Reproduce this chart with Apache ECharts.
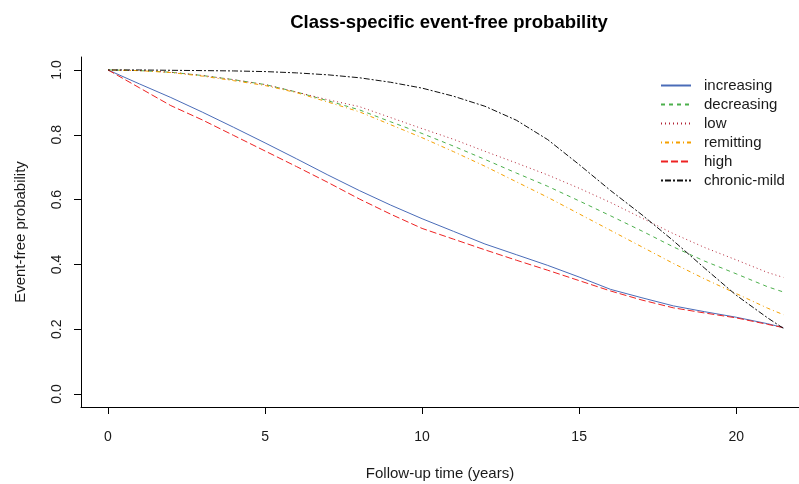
<!DOCTYPE html>
<html>
<head>
<meta charset="utf-8">
<script src="https://cdn.jsdelivr.net/npm/echarts@6/dist/echarts.min.js"></script>
<style>
html, body { margin: 0; padding: 0; background: #fff; }
#main { width: 799px; height: 484px; }
</style>
</head>
<body>
<div id="main"></div>
<script>
// follow-up time (years)
var time = [0, 1, 2, 3, 4, 5, 6, 7, 8, 9, 10, 11, 12, 13, 14, 15, 16, 17, 18, 19, 20, 21, 21.5];

// event-free probability per class
var increasing = [1.000, 0.957, 0.915, 0.870, 0.823, 0.775, 0.726, 0.676, 0.628, 0.583, 0.541, 0.502, 0.463, 0.430, 0.397, 0.361, 0.323, 0.297, 0.272, 0.254, 0.237, 0.217, 0.205];
var decreasing = [1.000, 0.998, 0.993, 0.983, 0.970, 0.955, 0.932, 0.905, 0.877, 0.840, 0.804, 0.765, 0.724, 0.682, 0.641, 0.596, 0.550, 0.503, 0.454, 0.410, 0.371, 0.331, 0.315];
var low = [1.000, 0.998, 0.993, 0.983, 0.970, 0.955, 0.932, 0.908, 0.887, 0.853, 0.819, 0.786, 0.749, 0.713, 0.676, 0.635, 0.591, 0.543, 0.495, 0.452, 0.414, 0.375, 0.360];
var remitting = [1.000, 0.998, 0.992, 0.981, 0.967, 0.952, 0.930, 0.901, 0.871, 0.831, 0.791, 0.748, 0.703, 0.655, 0.607, 0.556, 0.505, 0.454, 0.403, 0.355, 0.310, 0.265, 0.245];
var high = [1.000, 0.945, 0.890, 0.846, 0.798, 0.750, 0.702, 0.653, 0.602, 0.555, 0.511, 0.478, 0.445, 0.413, 0.382, 0.350, 0.318, 0.290, 0.266, 0.250, 0.235, 0.215, 0.205];
var chronicMild = [1.000, 1.000, 0.999, 0.998, 0.997, 0.995, 0.991, 0.985, 0.976, 0.962, 0.944, 0.919, 0.888, 0.845, 0.785, 0.708, 0.628, 0.553, 0.473, 0.388, 0.305, 0.235, 0.203];

// tick labels
var xTicks = [0, 5, 10, 15, 20];
var yTicks = [0, 0.2, 0.4, 0.6, 0.8, 1.0];

var font = 'Liberation Sans, Arial, sans-serif';

function pairs(vals){
	return time.map(function(t, i){ return [t, vals[i]]; });
}

// R lty: 1 solid, 2 dashed, 3 dotted, 4 dotdash, 5 longdash, 6 twodash
function curve(name, vals, color, dash){
	return {
		name: name,
		type: 'line',
		symbol: 'none',
		smooth: false,
		data: pairs(vals),
		lineStyle: { color: color, width: 1, type: dash },
		itemStyle: { color: color },
		emphasis: { disabled: true }
	};
}

var myChart = echarts.init(document.getElementById('main'));
var option = {
	backgroundColor: '#fff',
	animation: false,
	title: {
		text: 'Class-specific event-free probability',
		left: 444,
		textAlign: 'center',
		top: 8,
		textStyle: { fontFamily: font, fontSize: 18.5, fontWeight: 'bold', color: '#000' }
	},
	legend: {
		orient: 'vertical',
		left: 660,
		top: 78,
		padding: 0,
		itemWidth: 30,
		itemHeight: 14,
		itemGap: 4,
		itemStyle: { opacity: 0 },
		textStyle: { fontFamily: font, fontSize: 15, lineHeight: 14, color: '#1a1a1a', padding: [0, 0, 0, 8] },
		data: ['increasing', 'decreasing', 'low', 'remitting', 'high', 'chronic-mild']
	},
	grid: { left: 81, right: 0, top: 57, bottom: 77, outerBoundsMode: 'none' },
	xAxis: {
		type: 'value',
		min: -0.86,
		max: 22.0,
		name: 'Follow-up time (years)',
		nameLocation: 'middle',
		nameGap: 59,
		nameTextStyle: { fontFamily: font, fontSize: 15, color: '#1a1a1a' },
		splitLine: { show: false },
		axisLine: { show: true, onZero: false, lineStyle: { color: '#000', width: 1 } },
		axisTick: { show: true, length: 7, customValues: xTicks, lineStyle: { color: '#000' } },
		axisLabel: {
			customValues: xTicks,
			margin: 23,
			fontFamily: font, fontSize: 14, color: '#1a1a1a',
			formatter: function(v){ return String(v); }
		}
	},
	yAxis: {
		type: 'value',
		min: -0.04,
		max: 1.04,
		name: 'Event-free probability',
		nameLocation: 'middle',
		nameGap: 53,
		nameTextStyle: { fontFamily: font, fontSize: 15, color: '#1a1a1a' },
		splitLine: { show: false },
		axisLine: { show: true, onZero: false, lineStyle: { color: '#000', width: 1 } },
		axisTick: { show: true, length: 7, customValues: yTicks, lineStyle: { color: '#000' } },
		axisLabel: {
			customValues: yTicks,
			rotate: 90,
			margin: 17,
			fontFamily: font, fontSize: 14, color: '#1a1a1a',
			formatter: function(v){ return v.toFixed(1); }
		}
	},
	series: [
		curve('increasing', increasing, '#4a6cb8', 'solid'),
		curve('decreasing', decreasing, '#4cb04c', [4, 4]),
		curve('low', low, '#b22234', [1, 3]),
		curve('remitting', remitting, '#f5a000', [1, 3, 4, 3]),
		curve('high', high, '#ee2222', [7, 3]),
		curve('chronic-mild', chronicMild, '#111111', [2, 2, 6, 2])
	]
};
myChart.setOption(option);
</script>
</body>
</html>
